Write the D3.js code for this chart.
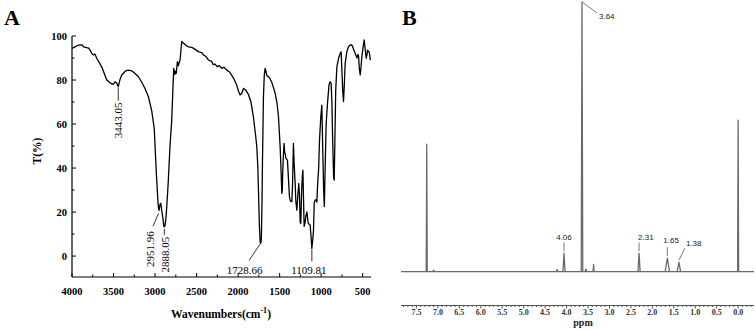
<!DOCTYPE html>
<html>
<head>
<meta charset="utf-8">
<script src="https://cdn.jsdelivr.net/npm/d3@7"></script>
<style>
  body { margin: 0; background: #fff; }
  svg { display: block; }
</style>
</head>
<body>
<div id="vis_container"></div>
<script>
// Panel A: FT-IR spectrum, wavenumber (cm-1) against transmittance T(%).
var ir_wavenumber = [4000,3920,3880,3860,3800,3783,3760,3743,3725,3702,3642,3582,3522,3500,3482,3460,3443,3420,3401,3360,
	3322,3280,3241,3200,3160,3120,3081,3040,3010,3000,2985,2970,2960,2952,2940,2931,2919,2905,2892,2880,
	2867,2850,2840,2820,2799,2785,2775,2763,2755,2745,2731,2720,2711,2699,2685,2678,2659,2640,2620,2599,
	2560,2540,2478,2440,2418,2390,2358,2320,2300,2277,2250,2230,2196,2170,2136,2100,2057,2020,1996,1976,
	1955,1936,1910,1876,1845,1816,1790,1775,1762,1755,1745,1735,1728,1720,1712,1707,1695,1685,1675,1665,
	1654,1635,1614,1590,1554,1530,1514,1494,1482,1474,1468,1462,1452,1446,1440,1432,1425,1406,1395,1382,
	1370,1353,1345,1334,1325,1313,1305,1293,1280,1270,1261,1253,1245,1235,1225,1220,1212,1205,1195,1185,
	1172,1160,1153,1133,1122,1112,1100,1092,1084,1072,1060,1052,1044,1030,1020,1005,992,982,970,962,
	955,940,924,905,892,880,871,860,850,843,836,825,811,790,771,760,751,740,731,721,
	711,690,671,650,630,610,590,570,560,551,540,530,520,510,495,482,470,458,448,442,
	430,420,408];
var ir_transmittance = [94.4,95.9,96.0,95.1,94.5,93.6,92.0,91.4,91.8,89.9,86,80,78.2,78.2,79.2,78.5,77.0,80.5,82.3,84.0,
	84.5,84.2,83,81.5,79,76,72.5,66,58,50,38,28,22,20.8,23.5,24,20.5,17,13.3,13.8,
	17.9,28,34.5,50,62,76,85.3,82.5,84,83,88.3,86.5,87.6,89.1,95,97.6,96.7,96.2,95.5,95.1,
	94.8,94.5,92.9,92.5,91.4,90.8,89.1,88.5,87.0,87.2,86,86.6,85.3,85.8,84.5,83.5,81,78,75,73.2,
	74,76.2,75.5,73.5,70,63.3,55,49.7,40,30,15,6.5,5.8,8,25,42.1,72.4,82,85.3,84,
	82,81.5,80.5,78.5,74,69,63.3,49.7,38,28.5,30,39,48,51.2,47,46.5,44.4,43.6,36,27,
	25,24.7,32,51.2,42,33,25,20.9,28,33,28,15.5,14.8,30,37,39,25,13.5,15,18,
	20.1,16,14.8,14.1,9,3.5,8,12,24,25.5,25.5,24.5,31.5,40,52.7,63,68.6,50,30,22.5,
	35,60,69.4,78,79.2,78.5,70,50,36,34.5,50,75,86,90,92.1,92.8,85,75,70.2,78,
	87.6,93,95.1,95.9,95.9,94,92.1,90,91.5,91.4,85,82.3,86,90.6,95,98.2,94,89.9,91.5,93.6,
	93,92.5,89];

// Peak annotations of panel A
var ir_peak_labels = ["3443.05","2951.96","2888.05","1728.66","1109.81"];
var ir_peak_wn = [3443,2952,2888,1728,1112];
var ir_peak_t = [77.0,20.8,13.3,5.8,3.5];

var ir_x_ticks = [4000,3500,3000,2500,2000,1500,1000,500];
var ir_y_ticks = [0,20,40,60,80,100];

// Panel B: 1H NMR, peak position (ppm), relative height, half width (ppm)
var nmr_ppm = [7.26,7.10,4.22,4.06,3.64,3.55,3.37,2.31,1.65,1.38,0.0];
var nmr_height = [47.3,0.6,0.8,6.8,100,1.0,2.7,6.8,5.0,3.5,56.2];
var nmr_halfwidth = [0.012,0.02,0.02,0.025,0.018,0.02,0.012,0.025,0.05,0.04,0.012];
var nmr_labels = ["3.64","4.06","2.31","1.65","1.38"];
var nmr_ticks = [7.5,7.0,6.5,6.0,5.5,5.0,4.5,4.0,3.5,3.0,2.5,2.0,1.5,1.0,0.5,0.0];

var width = 756;
var height = 330;
var serif = "'Liberation Serif','Times New Roman',serif";
var sans = "'Liberation Sans',Arial,sans-serif";

var svg = d3.select("#vis_container")
	.append("svg")
	.attr("width", width)
	.attr("height", height);

svg.append("rect").attr("width", width).attr("height", height).attr("fill", "#fff");

// ---------- Panel A ----------
var x = d3.scaleLinear().domain([4000,400]).range([72,371]);
var y = d3.scaleLinear().domain([-9.5,100]).range([277,36]);

svg.append("text")
	.attr("x", 4).attr("y", 25)
	.style("font-family", serif).style("font-weight", "bold").style("font-size", "22px")
	.text("A");

var gA = svg.append("g").style("font-family", serif);

// axes lines
gA.append("line").attr("x1", 72).attr("x2", 72).attr("y1", y(100)).attr("y2", 277)
	.attr("stroke", "#000").attr("stroke-width", 1.2);
gA.append("line").attr("x1", 72).attr("x2", 371).attr("y1", 277).attr("y2", 277)
	.attr("stroke", "#000").attr("stroke-width", 1.2);

// x ticks (inward), major every 500, minor every 250
d3.range(4000, 399, -250).forEach(function(v) {
	var major = v % 500 == 0;
	gA.append("line").attr("x1", x(v)).attr("x2", x(v)).attr("y1", 277).attr("y2", 277 - (major ? 4 : 2.5))
		.attr("stroke", "#000").attr("stroke-width", 1);
});
gA.selectAll(".xlab").data(ir_x_ticks).enter().append("text")
	.attr("x", function(d) { return x(d); })
	.attr("y", 295)
	.attr("text-anchor", "middle")
	.style("font-weight", "bold").style("font-size", "10.5px")
	.text(function(d) { return d; });

// y ticks (inward), major every 20, minor every 10
d3.range(0, 101, 10).forEach(function(v) {
	var major = v % 20 == 0;
	gA.append("line").attr("x1", 72).attr("x2", 72 + (major ? 4 : 2.5)).attr("y1", y(v)).attr("y2", y(v))
		.attr("stroke", "#000").attr("stroke-width", 1);
});
gA.selectAll(".ylab").data(ir_y_ticks).enter().append("text")
	.attr("x", 67)
	.attr("y", function(d) { return y(d); })
	.attr("dy", "0.35em")
	.attr("text-anchor", "end")
	.style("font-weight", "bold").style("font-size", "10.5px")
	.text(function(d) { return d; });

// axis titles
var xt = gA.append("text")
	.attr("x", 221).attr("y", 318)
	.attr("text-anchor", "middle")
	.style("font-weight", "bold").style("font-size", "11.5px");
xt.append("tspan").text("Wavenumbers(cm");
xt.append("tspan").attr("dy", -5).style("font-size", "8px").text("-1");
xt.append("tspan").attr("dy", 5).text(")");

gA.append("text")
	.attr("transform", "translate(41,151) rotate(-90)")
	.attr("text-anchor", "middle")
	.style("font-weight", "bold").style("font-size", "11.5px")
	.text("T(%)");

// spectrum
var irLine = d3.line()
	.x(function(d, i) { return x(ir_wavenumber[i]); })
	.y(function(d) { return y(d); });
gA.append("path")
	.datum(ir_transmittance)
	.attr("d", irLine)
	.attr("fill", "none")
	.attr("stroke", "#000")
	.attr("stroke-width", 1.3)
	.attr("stroke-linejoin", "round");

// peak annotations
var pk = ir_peak_labels.map(function(l, i) { return {label: l, px: x(ir_peak_wn[i]), py: y(ir_peak_t[i])}; });
function leader(x1, y1, x2, y2) {
	gA.append("line").attr("x1", x1).attr("y1", y1).attr("x2", x2).attr("y2", y2)
		.attr("stroke", "#000").attr("stroke-width", 0.8);
}
function vlabel(txt, cx, top) {
	gA.append("text")
		.attr("transform", "translate(" + cx + "," + top + ") rotate(-90)")
		.attr("text-anchor", "end")
		.attr("dy", "0.35em")
		.style("font-size", "11px")
		.text(txt);
}
// 3443.05
leader(pk[0].px, pk[0].py + 1, pk[0].px, pk[0].py + 14);
vlabel(pk[0].label, pk[0].px, pk[0].py + 16);
// 2951.96
leader(pk[1].px - 0.5, pk[1].py + 3, pk[1].px - 6, pk[1].py + 16);
vlabel(pk[1].label, pk[1].px - 9, pk[1].py + 21);
// 2888.05
leader(pk[2].px, pk[2].py + 2, pk[2].px, pk[2].py + 8);
vlabel(pk[2].label, pk[2].px + 1, pk[2].py + 10);
// 1728.66
leader(pk[3].px - 0.5, pk[3].py + 0.5, pk[3].px - 11.5, pk[3].py + 17);
gA.append("text").attr("x", pk[3].px - 16).attr("y", 274).attr("text-anchor", "middle")
	.style("font-size", "11px").text(pk[3].label);
// 1109.81
leader(pk[4].px, pk[4].py + 1, pk[4].px, pk[4].py + 13);
gA.append("text").attr("x", pk[4].px - 3).attr("y", 274).attr("text-anchor", "middle")
	.style("font-size", "11px").text(pk[4].label);

// ---------- Panel B ----------
var xn = d3.scaleLinear().domain([7.86,-0.37]).range([401,754]);
var yn = d3.scaleLinear().domain([0,100]).range([271.7,2]);
var gray = "#6a6a6a";

svg.append("text")
	.attr("x", 402).attr("y", 25)
	.style("font-family", serif).style("font-weight", "bold").style("font-size", "22px")
	.text("B");

var gB = svg.append("g");

// baseline
gB.append("line").attr("x1", xn(7.86)).attr("x2", xn(-0.37)).attr("y1", yn(0)).attr("y2", yn(0))
	.attr("stroke", gray).attr("stroke-width", 1.2);

// peaks
var peaks = nmr_ppm.map(function(p, i) { return {ppm: p, h: nmr_height[i], w: nmr_halfwidth[i]}; });
gB.selectAll(".peak").data(peaks).enter().append("path")
	.attr("class", "peak")
	.attr("d", function(d) {
		return d3.line()([[xn(d.ppm + d.w), yn(0)], [xn(d.ppm), yn(d.h)], [xn(d.ppm - d.w), yn(0)]]);
	})
	.attr("fill", "none")
	.attr("stroke", gray)
	.attr("stroke-width", 1.3)
	.attr("stroke-linejoin", "round");

// peak labels
function nline(x1, y1, x2, y2) {
	gB.append("line").attr("x1", x1).attr("y1", y1).attr("x2", x2).attr("y2", y2)
		.attr("stroke", gray).attr("stroke-width", 0.9);
}
function ntext(txt, tx, ty, anchor) {
	gB.append("text").attr("x", tx).attr("y", ty).attr("text-anchor", anchor || "middle")
		.style("font-family", sans).style("font-size", "8px").style("fill", "#222")
		.text(txt);
}
// 3.64
nline(xn(3.64), yn(100), xn(3.64) + 15, yn(100) + 11);
ntext(nmr_labels[0], xn(3.64) + 17, yn(100) + 17, "start");
// 4.06
nline(xn(4.06), yn(6.8) - 2, xn(4.06), yn(6.8) - 11);
ntext(nmr_labels[1], xn(4.06), yn(6.8) - 13.5);
// 2.31
nline(xn(2.31), yn(6.8) - 2, xn(2.31), yn(6.8) - 11);
ntext(nmr_labels[2], xn(2.31) - 1, yn(6.8) - 13.5, "start");
// 1.65
nline(xn(1.65), yn(5.0) - 2, xn(1.65), yn(5.0) - 11);
ntext(nmr_labels[3], xn(1.65) - 4, yn(5.0) - 15.5, "start");
// 1.38
nline(xn(1.38), yn(3.5) - 2, xn(1.38) + 6, yn(3.5) - 14);
ntext(nmr_labels[4], xn(1.38) + 7, yn(3.5) - 16, "start");

// ppm axis
var axY = 305.5;
gB.append("line").attr("x1", xn(7.86)).attr("x2", xn(-0.37)).attr("y1", axY).attr("y2", axY)
	.attr("stroke", "#555").attr("stroke-width", 1);
d3.range(-3, 79, 1).forEach(function(k) {
	var v = k / 10;
	var major = k % 5 == 0;
	gB.append("line").attr("x1", xn(v)).attr("x2", xn(v)).attr("y1", axY).attr("y2", axY + (major ? 3 : 1.5))
		.attr("stroke", "#555").attr("stroke-width", 1);
});
gB.selectAll(".nlab").data(nmr_ticks).enter().append("text")
	.attr("x", function(d) { return xn(d); })
	.attr("y", 314.5)
	.attr("text-anchor", "middle")
	.style("font-family", serif).style("font-weight", "bold").style("font-size", "8px").style("fill", "#333")
	.text(function(d) { return d.toFixed(1); });
gB.append("text")
	.attr("x", 583).attr("y", 326)
	.attr("text-anchor", "middle")
	.style("font-family", serif).style("font-weight", "bold").style("font-size", "10px").style("fill", "#222")
	.text("ppm");
</script>
</body>
</html>
